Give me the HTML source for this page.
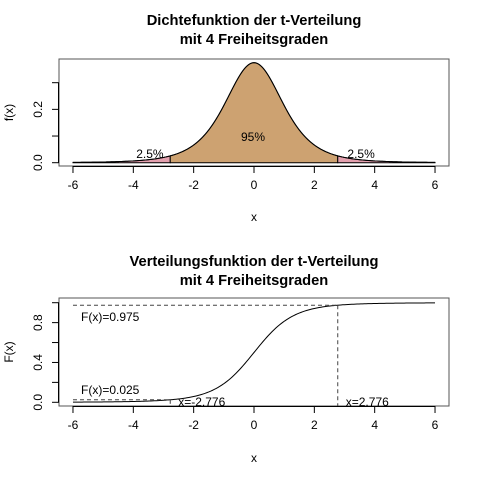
<!DOCTYPE html>
<html><head><meta charset="utf-8"><style>
body{margin:0;background:#fff}
svg text{font-family:"Liberation Sans",sans-serif;fill:#000}
</style></head><body>
<svg id="c" width="480" height="480" xmlns="http://www.w3.org/2000/svg"></svg>
<script>
const xTicks=[-6,-4,-2,0,2,4,6];
const densTicks=[0,0.1,0.2,0.3];
const densLabels=["0.0","","0.2",""];
const cdfTicks=[0,0.2,0.4,0.6,0.8,1.0];
const cdfLabels=["0.0","","0.4","","0.8",""];
const quantiles=[-2.776,2.776];
const probs=[0.025,0.975];
const tailLabels=["2.5%","95%","2.5%"];
const df=4;
const svg=document.getElementById('c');
const NS='http://www.w3.org/2000/svg';
function el(t,a,txt){const e=document.createElementNS(NS,t);for(const k in a)e.setAttribute(k,a[k]);if(txt!==undefined)e.textContent=txt;svg.appendChild(e);return e;}
const sx=v=>254+v*30.17;
const sy1=v=>162.7-v*266.7;
const sy2=v=>402.3-v*99.6;
function dens(t){return 0.375*Math.pow(1+t*t/4,-2.5);}
function cdf(t){const x=t/Math.sqrt(t*t+4);return 0.5+0.5*x*(1+0.5*(1-x*x));}
function pts(a,b,f,sy){let s=[];for(let i=0;i<=200;i++){const x=a+(b-a)*i/200;s.push(sx(x).toFixed(2)+','+sy(f(x)).toFixed(2));}return s;}
let t;
t=el('text',{x:254,y:25,'text-anchor':'middle','font-size':14.7,'font-weight':'bold'},'Dichtefunktion der t-Verteilung');
t=el('text',{x:254,y:44,'text-anchor':'middle','font-size':14.7,'font-weight':'bold'},'mit 4 Freiheitsgraden');
t=el('text',{x:254,y:266,'text-anchor':'middle','font-size':14.7,'font-weight':'bold'},'Verteilungsfunktion der t-Verteilung');
t=el('text',{x:254,y:285,'text-anchor':'middle','font-size':14.7,'font-weight':'bold'},'mit 4 Freiheitsgraden');
const segs=[[-6,quantiles[0],'#E3A0AE'],[quantiles[0],quantiles[1],'#CDA271'],[quantiles[1],6,'#E3A0AE']];
segs.forEach((s,i)=>{const p=pts(s[0],s[1],dens,sy1);p.push(sx(s[1]).toFixed(2)+','+sy1(0),sx(s[0]).toFixed(2)+','+sy1(0));
const e=el('polygon',{points:p.join(' '),fill:s[2],stroke:'#000','stroke-width':1});

});
const dl=el('polyline',{points:pts(-6,6,dens,sy1).join(' '),fill:'none',stroke:'#000','stroke-width':1});


[[-3.55,158],[0,141],[3.45,158]].forEach((p,i)=>{const e=el('text',{x:sx(p[0])+(i==1?-1:3),y:p[1],'text-anchor':'middle','font-size':12},tailLabels[i]);

});
function frame(top,bot,ticks,labels,sy,name,ylab,xlabY){
 const b=el('rect',{x:59,y:top,width:390,height:bot-top,fill:'none',stroke:'#555','stroke-width':1});
 
 el('line',{x1:sx(-6),x2:sx(6),y1:bot+0.5,y2:bot+0.5,stroke:'#000'});
 xTicks.forEach(v=>{el('line',{x1:sx(v),x2:sx(v),y1:bot,y2:bot+7,stroke:'#000'});
  const e=el('text',{x:sx(v),y:bot+23,'text-anchor':'middle','font-size':12},String(v));
  });
 el('line',{x1:58.5,x2:58.5,y1:sy(ticks[0]),y2:sy(ticks[ticks.length-1]),stroke:'#000'});
 ticks.forEach((v,i)=>{const y=sy(v);el('line',{x1:52,x2:59,y1:y,y2:y,stroke:'#000'});
  if(labels[i]){const e=el('text',{x:0,y:0,'text-anchor':'middle','font-size':12,transform:`translate(42,${y}) rotate(-90)`},labels[i]);
  }});
 const xl=el('text',{x:254,y:xlabY,'text-anchor':'middle','font-size':12},'x');
 
 const yl=el('text',{x:0,y:0,'text-anchor':'middle','font-size':12,transform:`translate(13,${(top+bot)/2}) rotate(-90)`},ylab);
 
}
frame(59,166,densTicks,densLabels,sy1,'density','f(x)',221);
frame(298,406,cdfTicks,cdfLabels,sy2,'cdf','F(x)',462);
const cl=el('polyline',{points:pts(-6,6,cdf,sy2).join(' '),fill:'none',stroke:'#000','stroke-width':1});


quantiles.forEach((q,i)=>{const y=sy2(probs[i]);
 const h=el('line',{x1:sx(-6),x2:sx(q),y1:y,y2:y,stroke:'#444','stroke-dasharray':'4,3'});
 
 const v=el('line',{x1:sx(q),x2:sx(q),y1:y,y2:406,stroke:'#444','stroke-dasharray':'4,3'});
 
 const a=el('text',{x:81,y:i==0?y-6:y+16,'font-size':12},'F(x)='+probs[i]);
 
 const b=el('text',{x:sx(q)+8,y:406,'font-size':12},'x='+q);
 
});
</script>
</body></html>
